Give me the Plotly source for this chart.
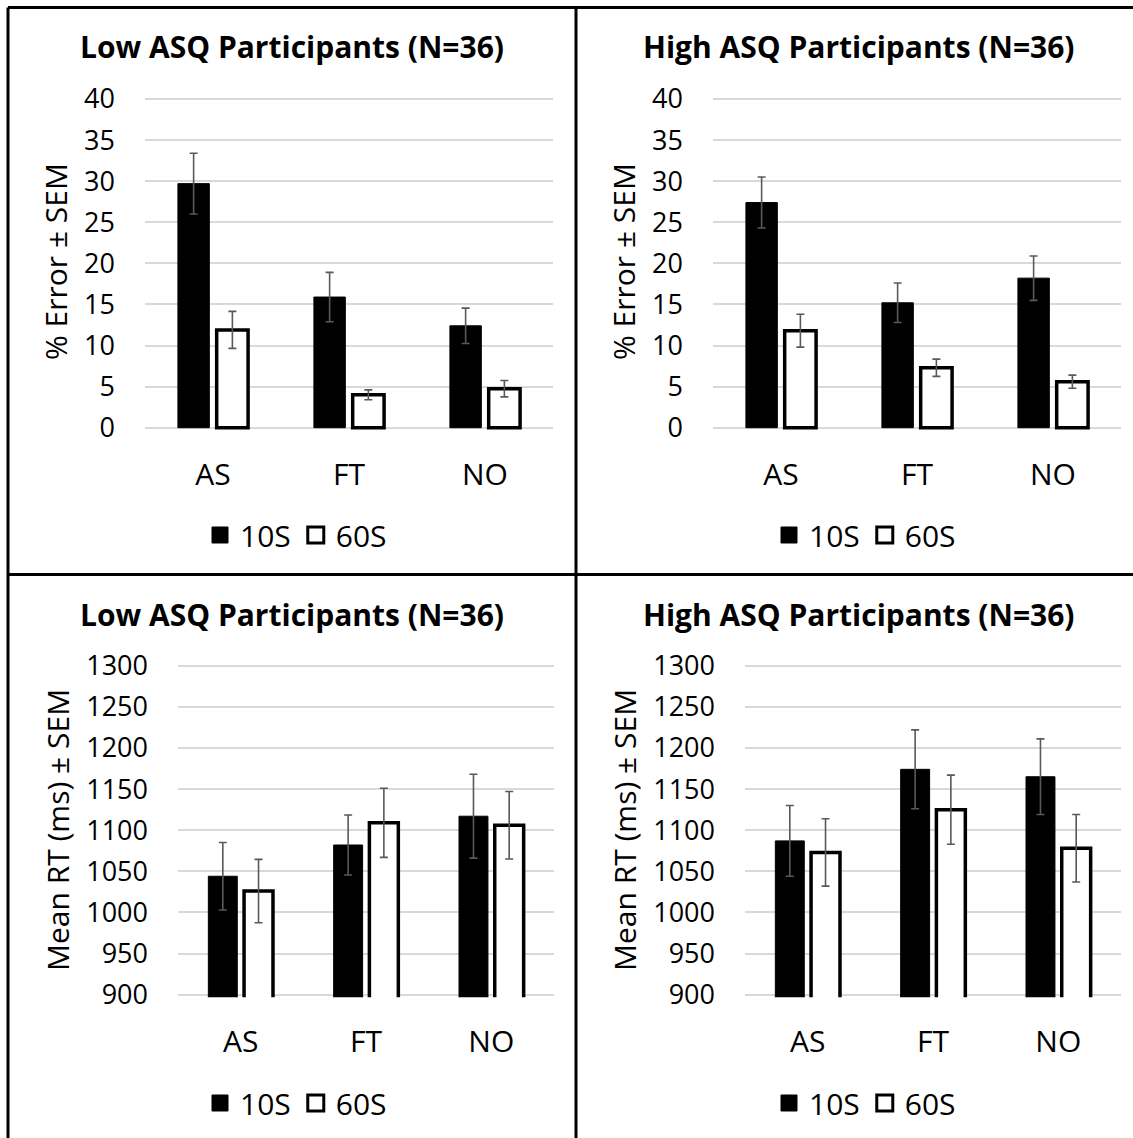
import plotly.graph_objects as go

W, H = 1133, 1138

categories = ["AS", "FT", "NO"]
series_names = ["10S", "60S"]

err_low_10 = [29.7, 15.9, 12.4]
err_low_10_sem = [3.7, 3.0, 2.15]
err_low_60 = [11.9, 4.0, 4.75]
err_low_60_sem = [2.25, 0.6, 1.0]

err_high_10 = [27.4, 15.2, 18.2]
err_high_10_sem = [3.1, 2.4, 2.7]
err_high_60 = [11.8, 7.3, 5.6]
err_high_60_sem = [2.0, 1.05, 0.8]

rt_low_10 = [1044, 1082, 1117]
rt_low_10_sem = [41, 36.5, 51]
rt_low_60 = [1026, 1109, 1106]
rt_low_60_sem = [38.5, 42, 41]

rt_high_10 = [1087, 1174, 1165]
rt_high_10_sem = [43, 48, 46]
rt_high_60 = [1073, 1125, 1078]
rt_high_60_sem = [41, 42, 41]

titles = ["Low ASQ Participants (N=36)", "High ASQ Participants (N=36)",
          "Low ASQ Participants (N=36)", "High ASQ Participants (N=36)"]
y_titles = ["% Error ± SEM", "% Error ± SEM", "Mean RT (ms) ± SEM", "Mean RT (ms) ± SEM"]
err_ticks = [0, 5, 10, 15, 20, 25, 30, 35, 40]
rt_ticks = [900, 950, 1000, 1050, 1100, 1150, 1200, 1250, 1300]

FONT = "Open Sans"
GRID = "#d9d9d9"
ERRC = "#595959"


def px_x(p):
    return p / W


def px_y(p):
    return 1 - p / H


# panel layout in pixels: x extent, pixel rows of the range max/min
panels = [
    dict(x=(145, 553), y=(99, 427.7), rng=(0, 40), ticks=err_ticks,
         d10=err_low_10, s10=err_low_10_sem, d60=err_low_60, s60=err_low_60_sem,
         title_xy=(292, 47), ytitle_xy=(55, 262), leg_xy=(296, 535)),
    dict(x=(713, 1121), y=(99, 427.7), rng=(0, 40), ticks=err_ticks,
         d10=err_high_10, s10=err_high_10_sem, d60=err_high_60, s60=err_high_60_sem,
         title_xy=(859, 47), ytitle_xy=(623, 262), leg_xy=(865, 535)),
    dict(x=(178, 554), y=(665.7, 994.7), rng=(900, 1300), ticks=rt_ticks,
         d10=rt_low_10, s10=rt_low_10_sem, d60=rt_low_60, s60=rt_low_60_sem,
         title_xy=(292, 614), ytitle_xy=(57, 830), leg_xy=(296, 1103)),
    dict(x=(745, 1121), y=(665.7, 994.7), rng=(900, 1300), ticks=rt_ticks,
         d10=rt_high_10, s10=rt_high_10_sem, d60=rt_high_60, s60=rt_high_60_sem,
         title_xy=(859, 614), ytitle_xy=(624, 830), leg_xy=(865, 1103)),
]

fig = go.Figure()
annotations = []
layout_extra = {}

for i, p in enumerate(panels):
    n = "" if i == 0 else str(i + 1)
    xa, ya = "x" + n, "y" + n
    leg = "legend" + n
    vmin, vmax = p["rng"]
    ytop, ybot = p["y"]
    pad = 0.008 * (vmax - vmin)
    ppu = (ybot - ytop) / (vmax - vmin)
    dom_top = ytop - pad * ppu
    dom_bot = ybot + pad * ppu

    fig.add_trace(go.Bar(
        x=categories, y=p["d10"], xaxis=xa, yaxis=ya, name=series_names[0],
        marker=dict(color="black", line=dict(color="black", width=1)),
        error_y=dict(type="data", array=p["s10"], color=ERRC, thickness=1.6, width=4),
        showlegend=False,
    ))
    fig.add_trace(go.Bar(
        x=categories, y=p["d60"], xaxis=xa, yaxis=ya, name=series_names[1],
        marker=dict(color="white", line=dict(color="black", width=3.5)),
        error_y=dict(type="data", array=p["s60"], color=ERRC, thickness=1.6, width=4),
        showlegend=False,
    ))
    # legend entries
    fig.add_trace(go.Scatter(
        x=[None], y=[None], xaxis=xa, yaxis=ya, mode="markers", name=series_names[0],
        marker=dict(symbol="square", size=22, color="black", line=dict(color="black", width=1)),
        legend=leg, showlegend=True,
    ))
    fig.add_trace(go.Scatter(
        x=[None], y=[None], xaxis=xa, yaxis=ya, mode="markers", name=series_names[1],
        marker=dict(symbol="square", size=22, color="white", line=dict(color="black", width=3)),
        legend=leg, showlegend=True,
    ))
    layout_extra["xaxis" + n] = dict(
        domain=[px_x(p["x"][0]), px_x(p["x"][1])], anchor=ya,
        type="category", showgrid=False, showline=False, zeroline=False,
        ticks="", ticklabelstandoff=24,
        tickfont=dict(family=FONT, size=30, color="black"),
    )
    layout_extra["yaxis" + n] = dict(
        domain=[px_y(dom_bot), px_y(dom_top)], anchor=xa,
        range=[vmin - pad, vmax + pad], tickvals=p["ticks"],
        showgrid=True, gridcolor=GRID, gridwidth=2,
        zeroline=False, showline=False, ticks="", ticklabelstandoff=29,
        tickfont=dict(family=FONT, size=27, color="black"),
    )
    layout_extra[leg] = dict(
        orientation="h", x=px_x(p["leg_xy"][0]), y=px_y(p["leg_xy"][1]),
        xanchor="center", yanchor="middle", xref="paper", yref="paper",
        font=dict(family=FONT, size=30, color="black"), itemwidth=30,
        bgcolor="rgba(0,0,0,0)",
    )
    annotations.append(dict(
        text="<b>" + titles[i] + "</b>", x=px_x(p["title_xy"][0]), y=px_y(p["title_xy"][1]),
        xref="paper", yref="paper", xanchor="center", yanchor="middle", showarrow=False,
        font=dict(family=FONT, size=30, color="black"),
    ))
    annotations.append(dict(
        text=y_titles[i], x=px_x(p["ytitle_xy"][0]), y=px_y(p["ytitle_xy"][1]),
        xref="paper", yref="paper", xanchor="center", yanchor="middle", showarrow=False,
        textangle=-90, font=dict(family=FONT, size=30, color="black"),
    ))

shapes = []
LW = 3
border = dict(type="line", xref="paper", yref="paper", line=dict(color="black", width=LW))
shapes.append({**border, "x0": px_x(8), "x1": 1, "y0": px_y(7.5), "y1": px_y(7.5)})
shapes.append({**border, "x0": px_x(8), "x1": px_x(8), "y0": px_y(7.5), "y1": 0})
shapes.append({**border, "x0": px_x(576), "x1": px_x(576), "y0": px_y(7.5), "y1": 0})
shapes.append({**border, "x0": px_x(8), "x1": 1, "y0": px_y(574.5), "y1": px_y(574.5)})

fig.update_layout(
    width=W, height=H, margin=dict(l=0, r=0, t=0, b=0, autoexpand=False),
    paper_bgcolor="white", plot_bgcolor="white",
    barmode="group", bargap=0.43, bargroupgap=0.19,
    annotations=annotations, shapes=shapes,
    font=dict(family=FONT, color="black"),
    **layout_extra,
)

fig.write_html("out.html", config={"displayModeBar": False},
               post_script="document.body.style.margin='0';document.body.style.overflow='hidden';")
